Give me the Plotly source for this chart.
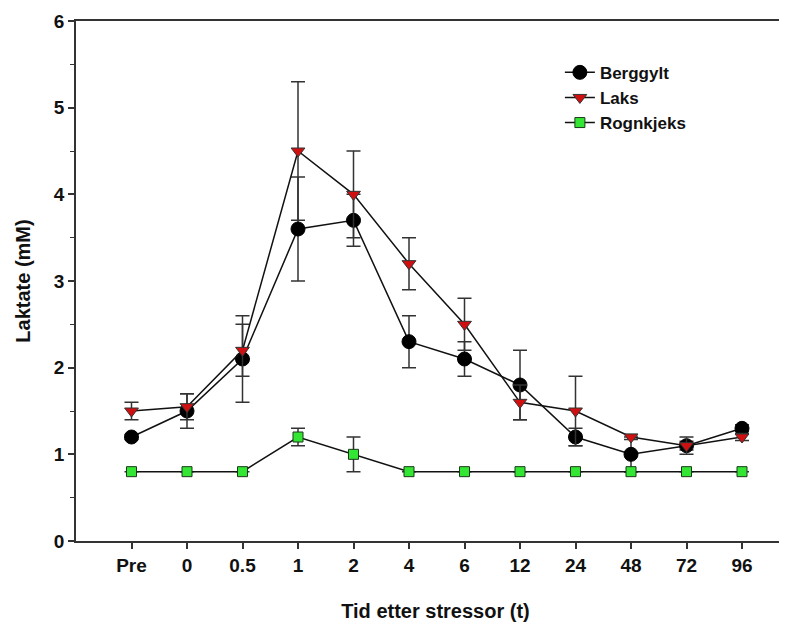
import plotly.graph_objects as go

categories = ["Pre", "0", "0.5", "1", "2", "4", "6", "12", "24", "48", "72", "96"]

berggylt = [1.2, 1.5, 2.1, 3.6, 3.7, 2.3, 2.1, 1.8, 1.2, 1.0, 1.1, 1.3]
berggylt_err = [0.03, 0.2, 0.5, 0.6, 0.3, 0.3, 0.2, 0.4, 0.1, 0.2, 0.05, 0.04]

laks = [1.5, 1.55, 2.2, 4.5, 4.0, 3.2, 2.5, 1.6, 1.5, 1.2, 1.1, 1.2]
laks_err = [0.1, 0.15, 0.3, 0.8, 0.5, 0.3, 0.3, 0.2, 0.4, 0.03, 0.1, 0.04]

rognkjeks = [0.8, 0.8, 0.8, 1.2, 1.0, 0.8, 0.8, 0.8, 0.8, 0.8, 0.8, 0.8]
rognkjeks_err = [0.0, 0.0, 0.0, 0.1, 0.2, 0.0, 0.0, 0.0, 0.0, 0.0, 0.0, 0.0]

y_ticks = [0, 1, 2, 3, 4, 5, 6]

FONT = "Liberation Sans, Arial, sans-serif"
ERR = dict(type="data", visible=True, color="#333333", thickness=1.5, width=7)

fig = go.Figure()

fig.add_trace(go.Scatter(
    x=categories, y=berggylt, name="<b>Berggylt</b>", mode="lines+markers",
    line=dict(color="#111111", width=1.5),
    marker=dict(symbol="circle", size=14, color="#000000",
                line=dict(color="#000000", width=1)),
    error_y=dict(array=berggylt_err, **ERR),
))
fig.add_trace(go.Scatter(
    x=categories, y=laks, name="<b>Laks</b>", mode="lines+markers",
    line=dict(color="#111111", width=1.5),
    marker=dict(symbol="triangle-down", size=12, color="#d01010",
                line=dict(color="#333333", width=1)),
    error_y=dict(array=laks_err, **ERR),
))
fig.add_trace(go.Scatter(
    x=categories, y=rognkjeks, name="<b>Rognkjeks</b>", mode="lines+markers",
    line=dict(color="#111111", width=1.5),
    marker=dict(symbol="square", size=10, color="#33e633",
                line=dict(color="#1a3a1a", width=1)),
    error_y=dict(array=rognkjeks_err, **ERR),
))

fig.update_layout(
    width=787, height=620,
    margin=dict(l=68, r=0, t=13, b=87),
    paper_bgcolor="white", plot_bgcolor="white",
    font=dict(family=FONT, color="#111111"),
    showlegend=True,
    legend=dict(
        x=0.673, y=0.935, xanchor="left", yanchor="top",
        bgcolor="rgba(0,0,0,0)", font=dict(size=17, family=FONT, color="#111111"),
        itemsizing="trace", tracegroupgap=0,
    ),
)

fig.update_xaxes(
    type="category",
    categoryorder="array", categoryarray=categories,
    range=[-1, 11.955],
    automargin=False,
    showline=True, linecolor="#333333", linewidth=1.5, mirror=True,
    ticks="outside", ticklen=6, tickwidth=1.5, tickcolor="#333333",
    showgrid=False, zeroline=False,
    tickfont=dict(size=19, family=FONT, color="#111111"),
    tickvals=categories, ticktext=["<b>%s</b>" % c for c in categories],
    title=dict(text="<b>Tid etter stressor (t)</b>", font=dict(size=20, family=FONT, color="#111111"), standoff=29),
)
fig.update_yaxes(
    range=[0, 6],
    automargin=False,
    tickvals=y_ticks, ticktext=["<b>%d</b>" % v for v in y_ticks],
    showline=True, linecolor="#333333", linewidth=1.5,
    ticks="outside", ticklen=6, tickwidth=1.5, tickcolor="#333333",
    minor=dict(dtick=0.5, ticks="outside", ticklen=4, tickcolor="#333333", tickwidth=1.2, showgrid=False),
    showgrid=False, zeroline=False,
    tickfont=dict(size=19, family=FONT, color="#111111"),
    title=dict(text="<b>Laktate (mM)</b>", font=dict(size=20, family=FONT, color="#111111"), standoff=18),
)

fig.write_html("out.html")
